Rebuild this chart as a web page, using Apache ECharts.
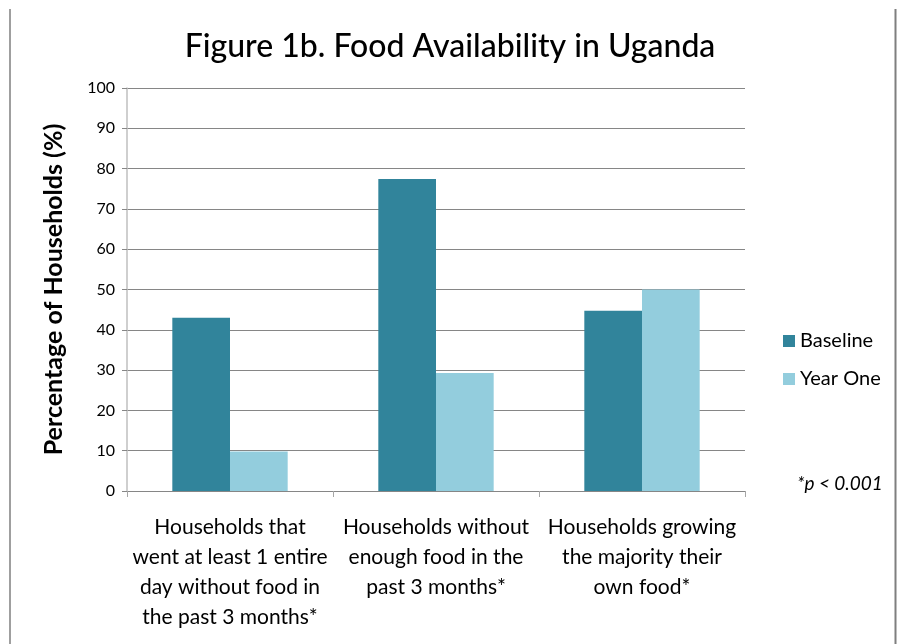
<!DOCTYPE html>
<html>
<head>
<meta charset="utf-8">
<script src="https://cdn.jsdelivr.net/npm/echarts@6/dist/echarts.min.js"></script>
<style>
  html, body { margin: 0; padding: 0; background: #fff; }
  #chart { width: 900px; height: 644px; }
</style>
</head>
<body>
<div id="chart"></div>
<script>
var categories = [
    'Households that\nwent at least 1 entire\nday without food in\nthe past 3 months*',
    'Households without\nenough food in the\npast 3 months*',
    'Households growing\nthe majority their\nown food*'
];
var baseline = [43, 77.4, 44.7];
var yearOne = [9.8, 29.3, 50];
var seriesNames = ['Baseline', 'Year One'];

var font = 'Lato, "Open Sans", sans-serif';
var myChart = echarts.init(document.getElementById('chart'));

var option = {
    backgroundColor: '#ffffff',
    animation: false,
    title: {
        text: 'Figure 1b. Food Availability in Uganda',
        left: 'center',
        top: 26,
        textStyle: { fontFamily: font, fontSize: 32, fontWeight: 500, color: '#000' }
    },
    legend: {
        data: seriesNames,
        orient: 'vertical',
        left: 778,
        top: 326,
        itemWidth: 12,
        itemHeight: 12,
        itemGap: 18,
        icon: 'rect',
        textStyle: { fontFamily: font, fontSize: 20, color: '#000' }
    },
    grid: {
        left: 127,
        right: 155,
        top: 88,
        bottom: 153,
        containLabel: false
    },
    xAxis: {
        type: 'category',
        data: categories,
        axisLine: { lineStyle: { color: '#868686', width: 1 } },
        axisTick: { show: true, length: 6, lineStyle: { color: '#a6a6a6' } },
        axisLabel: {
            interval: 0,
            margin: 21,
            fontFamily: font,
            fontSize: 21,
            lineHeight: 30,
            color: '#000'
        }
    },
    yAxis: {
        type: 'value',
        min: 0,
        max: 100,
        interval: 10,
        name: 'Percentage of Households (%)',
        nameLocation: 'middle',
        nameGap: 61,
        nameTextStyle: { fontFamily: font, fontSize: 25, fontWeight: 'bold', color: '#000' },
        axisLine: { show: true, lineStyle: { color: '#bfbfbf', width: 1.5 } },
        axisTick: { show: true, length: 5, lineStyle: { color: '#868686' } },
        axisLabel: { fontFamily: font, fontSize: 16, color: '#000', margin: 12 },
        splitLine: { show: true, lineStyle: { color: '#868686', width: 1 } }
    },
    series: [
        {
            name: seriesNames[0],
            type: 'bar',
            data: baseline,
            barGap: '0%',
            barCategoryGap: '44%',
            itemStyle: { color: '#31849b' }
        },
        {
            name: seriesNames[1],
            type: 'bar',
            data: yearOne,
            itemStyle: { color: '#93cddd' }
        }
    ],
    graphic: [
        { type: 'line', shape: { x1: 10, y1: 9, x2: 10, y2: 644 }, style: { stroke: '#7f7f7f', lineWidth: 1.5 } },
        { type: 'line', shape: { x1: 895.5, y1: 9, x2: 895.5, y2: 644 }, style: { stroke: '#7f7f7f', lineWidth: 2 } },
        {
            type: 'text',
            left: 797,
            top: 474,
            style: { text: '*p < 0.001', font: 'italic 19px ' + font, fill: '#000' }
        }
    ]
};

myChart.setOption(option);
</script>
</body>
</html>
